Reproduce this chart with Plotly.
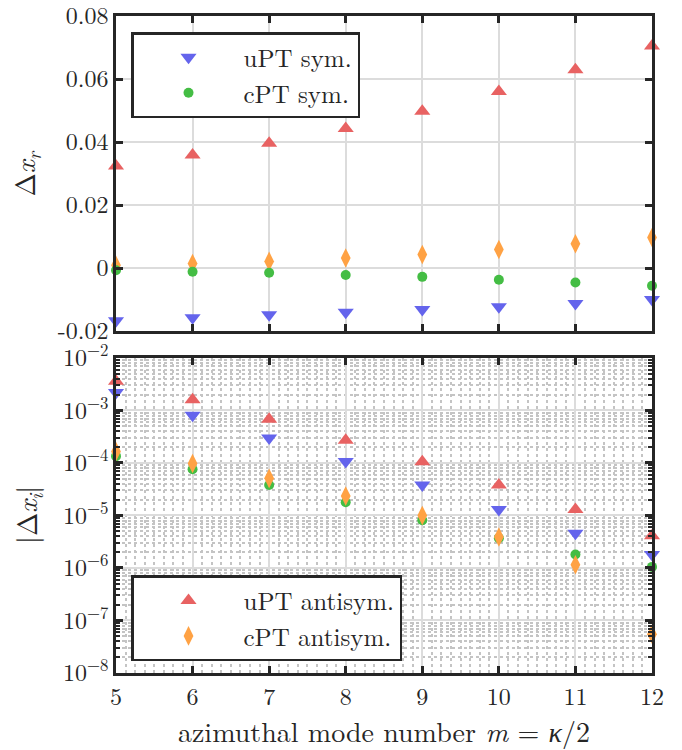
import plotly.graph_objects as go

# ---------------- data ----------------
m = [5, 6, 7, 8, 9, 10, 11, 12]

# real part shift  Δx_r
re_upt_sym = [-0.0167, -0.0158, -0.0148, -0.0140, -0.0132, -0.0123, -0.0113, -0.0100]
re_cpt_sym = [-0.0007, -0.0012, -0.0015, -0.0022, -0.0028, -0.0037, -0.0046, -0.0056]
re_upt_anti = [0.0324, 0.0359, 0.0396, 0.0443, 0.0498, 0.0560, 0.0629, 0.0705]
re_cpt_anti = [0.0009, 0.0014, 0.0021, 0.0032, 0.0043, 0.0059, 0.0077, 0.0097]

# imaginary part |Δx_i|
im_upt_sym = [2.2e-3, 8.1e-4, 3.0e-4, 1.07e-4, 3.8e-5, 1.3e-5, 4.6e-6, 1.8e-6]
im_cpt_sym = [1.35e-4, 7.6e-5, 3.8e-5, 1.78e-5, 8.1e-6, 3.7e-6, 1.8e-6, 1.05e-6]
im_upt_anti = [3.6e-3, 1.6e-3, 6.8e-4, 2.7e-4, 1.05e-4, 3.8e-5, 1.3e-5, 4.1e-6]
im_cpt_anti = [1.65e-4, 9.8e-5, 5.1e-5, 2.35e-5, 1.0e-5, 3.9e-6, 1.15e-6, 5.5e-8]

top_ticks = [-0.02, 0, 0.02, 0.04, 0.06, 0.08]
top_ticktext = ["-0.02", "0", "0.02", "0.04", "0.06", "0.08"]
log_ticks = [1e-8, 1e-7, 1e-6, 1e-5, 1e-4, 1e-3, 1e-2]
log_ticktext = ["10<sup>−8</sup>", "10<sup>−7</sup>", "10<sup>−6</sup>", "10<sup>−5</sup>",
                "10<sup>−4</sup>", "10<sup>−3</sup>", "10<sup>−2</sup>"]
x_ticks = [5, 6, 7, 8, 9, 10, 11, 12]

# ---------------- style ----------------
C_BLUE = "#6464ec"
C_GREEN = "#44bd44"
C_RED = "#e86262"
C_ORANGE = "#ffa244"
FONT = "Latin Modern Roman"
FS = 24
AX = "#262626"
GRID = "#dcdcdc"
MINOR = "#c4c4c4"

fig = go.Figure()

def add(x, y, name, color, symbol, size, yaxis, legend, show):
    fig.add_trace(go.Scatter(
        x=x, y=y, name=name, mode="markers", cliponaxis=False,
        marker=dict(color=color, symbol=symbol, size=size, line=dict(width=0)),
        xaxis="x" if yaxis == "y" else "x2", yaxis=yaxis,
        legend=legend, showlegend=show))

# top panel
add(m, re_upt_anti, "uPT antisym.", C_RED, "triangle-up", 14, "y", "legend", False)
add(m, re_cpt_anti, "cPT antisym.", C_ORANGE, "diamond-tall", 14, "y", "legend", False)
add(m, re_upt_sym, "uPT sym.", C_BLUE, "triangle-down", 14, "y", "legend", True)
add(m, re_cpt_sym, "cPT sym.", C_GREEN, "circle", 10, "y", "legend", True)
# bottom panel
add(m, im_upt_sym, "uPT sym.", C_BLUE, "triangle-down", 14, "y2", "legend2", False)
add(m, im_cpt_sym, "cPT sym.", C_GREEN, "circle", 10, "y2", "legend2", False)
add(m, im_upt_anti, "uPT antisym.", C_RED, "triangle-up", 14, "y2", "legend2", True)
add(m, im_cpt_anti, "cPT antisym.", C_ORANGE, "diamond-tall", 14, "y2", "legend2", True)

axis_common = dict(
    showline=True, linewidth=2.5, linecolor=AX, mirror="allticks",
    ticks="inside", ticklen=7, tickwidth=2.5, tickcolor=AX,
    showgrid=True, gridcolor=GRID, gridwidth=2, zeroline=False, automargin=False,
    ticklabeloverflow="allow",
    tickfont=dict(family=FONT, size=FS, color="#262626"),
)

fig.update_layout(
    width=682, height=750,
    margin=dict(l=116, r=30, t=16, b=77),
    paper_bgcolor="white", plot_bgcolor="white",
    font=dict(family=FONT, size=FS, color="#262626"),
    xaxis=dict(axis_common, range=[5, 12], tickvals=x_ticks, showticklabels=False,
               anchor="y", domain=[0, 1]),
    yaxis=dict(axis_common, range=[-0.02, 0.08], tickvals=top_ticks, ticktext=top_ticktext,
               domain=[0.5205, 1], anchor="x"),
    xaxis2=dict(axis_common, range=[5, 12], tickvals=x_ticks, anchor="y2", domain=[0, 1],
                minor=dict(dtick=0.125, showgrid=True, griddash="dot", gridcolor=MINOR,
                           gridwidth=1.5, ticks=""),
                title=dict(text="azimuthal mode number <i>m</i> = <i>κ</i>/2",
                           font=dict(family=FONT, size=28, color="#262626"), standoff=6)),
    yaxis2=dict(axis_common, type="log", range=[-8, -2], tickvals=log_ticks, ticktext=log_ticktext,
                domain=[0, 0.4795], anchor="x2",
                minor=dict(dtick="D1", ticks="inside", ticklen=4, tickwidth=2, tickcolor=AX,
                           showgrid=True, griddash="dot", gridcolor=MINOR, gridwidth=1.5)),
    legend=dict(x=0.028, y=0.9756, xanchor="left", yanchor="top",
                bordercolor=AX, borderwidth=2.5, bgcolor="white",
                itemwidth=100, font=dict(family=FONT, size=25, color="#262626"), tracegroupgap=0),
    legend2=dict(x=0.028, y=0.018, xanchor="left", yanchor="bottom",
                 bordercolor=AX, borderwidth=2.5, bgcolor="white",
                 itemwidth=100, font=dict(family=FONT, size=25, color="#262626"), tracegroupgap=0),
    annotations=[
        dict(text="Δ<i>x</i><sub><i>r</i></sub>", xref="paper", yref="paper",
             x=-0.17, y=0.76, textangle=-90, showarrow=False,
             font=dict(family=FONT, size=28, color="#262626"), xanchor="center", yanchor="middle"),
        dict(text="|Δ<i>x</i><sub><i>i</i></sub>|", xref="paper", yref="paper",
             x=-0.165, y=0.24, textangle=-90, showarrow=False,
             font=dict(family=FONT, size=28, color="#262626"), xanchor="center", yanchor="middle"),
    ],
)

fig.write_html("out.html")
